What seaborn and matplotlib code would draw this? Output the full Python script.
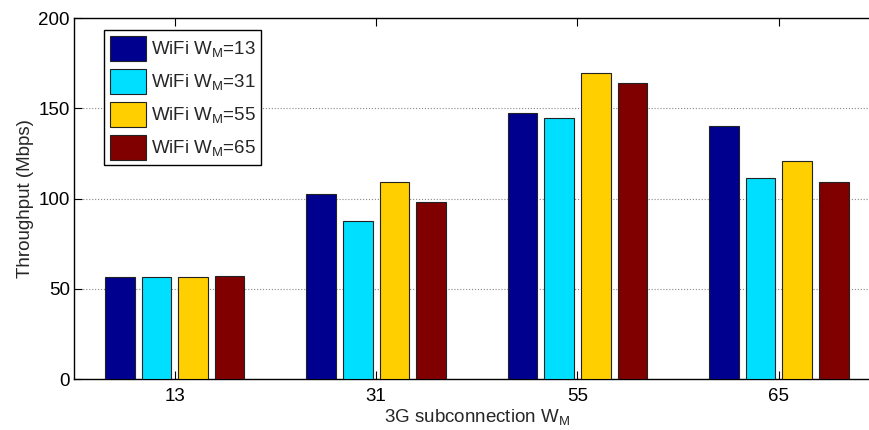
import pandas as pd
import numpy as np
import seaborn as sns
import matplotlib.pyplot as plt

# data
groups = ['13', '31', '55', '65']
series = ['WiFi W$_\\mathrm{M}$=13', 'WiFi W$_\\mathrm{M}$=31',
          'WiFi W$_\\mathrm{M}$=55', 'WiFi W$_\\mathrm{M}$=65']
wifi13 = [56.7, 102.6, 147.6, 140.2]
wifi31 = [56.8, 87.5, 144.6, 111.6]
wifi55 = [56.8, 109.4, 169.6, 121.0]
wifi65 = [57.1, 98.2, 163.8, 109.4]
colors = ['#00008F', '#00DFFF', '#FFCF00', '#800000']

fs = 13.5
sns.set_style("ticks")
plt.rcParams['font.family'] = ['Liberation Sans', 'DejaVu Sans']
plt.rcParams['mathtext.fontset'] = 'custom'
plt.rcParams['mathtext.rm'] = 'Liberation Sans'
plt.rcParams['mathtext.it'] = 'Liberation Sans'
plt.rcParams['font.size'] = fs

rows = []
for name, vals in zip(series, [wifi13, wifi31, wifi55, wifi65]):
	for g, v in zip(groups, vals):
		rows.append({'group': g, 'series': name, 'value': v})
df = pd.DataFrame(rows)

fig = plt.figure(figsize=(8.7, 4.3), dpi=100)
ax = fig.add_axes([0.085, 0.118, 0.926, 0.840])

sns.barplot(data=df, x='group', y='value', hue='series', order=groups,
            hue_order=series, palette=colors, width=0.727, gap=0.19,
            edgecolor='#222222', linewidth=0.8, saturation=1, ax=ax, zorder=3)

ax.set_xlim(-0.5, 3.5)
ax.set_ylim(0, 200)
ax.set_yticks([0, 50, 100, 150, 200])
ax.yaxis.grid(True, linestyle=':', color='#888888', linewidth=0.8, zorder=0)
ax.set_axisbelow(True)
ax.tick_params(direction='in', top=True, right=True, length=5.5, width=0.8,
               labelsize=fs, colors='black')
ax.tick_params(axis='x', pad=6)
ax.tick_params(axis='y', pad=3)
for s in ax.spines.values():
	s.set_color('black')
	s.set_linewidth(1.0)
ax.spines['right'].set_visible(False)

ax.set_xlabel('3G subconnection W$_\\mathrm{M}$', fontsize=fs, labelpad=2)
ax.set_ylabel('Throughput (Mbps)', fontsize=fs, labelpad=3)

leg = ax.legend(loc='upper left', bbox_to_anchor=(0.0372, 0.9668), borderaxespad=0,
                fancybox=False, framealpha=1, edgecolor='black', fontsize=fs,
                handlelength=1.92, handleheight=1.67, labelspacing=0.43,
                handletextpad=0.27, borderpad=0.3)
leg.get_frame().set_linewidth(1.0)

fig.savefig('out.png', dpi=100)
